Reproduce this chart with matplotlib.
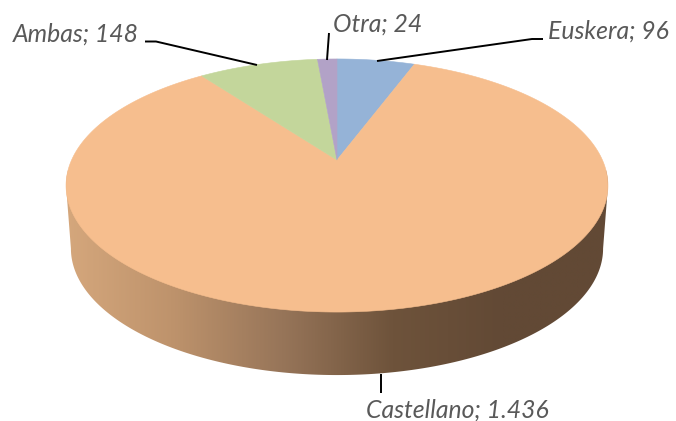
import numpy as np
import matplotlib
matplotlib.use("Agg")
import matplotlib.pyplot as plt
from matplotlib.patches import Polygon
from matplotlib.colors import LinearSegmentedColormap

# Slices, clockwise from 12 o'clock
categories = ["Euskera", "Castellano", "Ambas", "Otra"]
values = [96, 1436, 148, 24]
colors = ["#95B3D7", "#F6BE8E", "#C3D69B", "#B2A2C7"]

# Label anchors (x, baseline y, horizontal alignment) and leader polylines
label_pos = {
    "Euskera": (548, 38.5, "left"),
    "Castellano": (366, 418, "left"),
    "Ambas": (139, 42, "right"),
    "Otra": (333, 31.5, "left"),
}
leaders = {
    "Euskera": [(543, 39), (532, 39), (377, 61)],
    "Castellano": [(381, 374), (381, 393)],
    "Ambas": [(145, 41.5), (156, 41.5), (257, 65)],
    "Otra": [(329, 33), (327, 60)],
}

# Perspective disc geometry (pixel units)
CX, CY = 337.0, 160.0     # projected centre of the top face
A, B = 265.4, 121.4       # projected radii
K = -0.2016               # perspective foreshortening
DEPTH = 63.0
SHRINK = 0.982


def project(phi, drop=0.0, shrink=1.0):
    u = np.sin(phi)
    v = -np.cos(phi)
    d = 1.0 + K * v
    return CX + shrink * A * u / d, CY + B * v / d + drop


fig = plt.figure(figsize=(6.76, 4.21), dpi=100)
ax = fig.add_axes([0, 0, 1, 1])

# Side wall: silhouette of the disc, filled with a horizontal shading
phi_l = 2 * np.pi - np.arccos(-0.2016)
phi_r = np.arccos(-0.2016)
back = np.linspace(phi_l, 2 * np.pi + phi_r, 300)
front = np.linspace(phi_r, phi_l, 300)
tx, ty = project(back)
bx, by = project(front, drop=DEPTH, shrink=SHRINK)
side_xy = np.column_stack([np.concatenate([tx, bx]), np.concatenate([ty, by])])
side = Polygon(side_xy, closed=True, facecolor="none", edgecolor="none")
ax.add_patch(side)

shade = LinearSegmentedColormap.from_list(
    "side", [(0.0, "#D6A87D"), (0.25, "#BE936C"), (0.5, "#977559"),
             (0.75, "#6E533B"), (1.0, "#624935")])
xs = np.linspace(0, 1, 600)
xs = np.clip(xs / 0.8, 0, 1)
grad = np.tile(xs, (10, 1))
img = ax.imshow(grad, cmap=shade, extent=(60, 615, 390, 170),
                aspect="auto", interpolation="bilinear", zorder=1)
img.set_clip_path(side)

# Top face wedges
total = float(sum(values))
start = 0.0
for cat, val, col in zip(categories, values, colors):
    span = val / total * 2 * np.pi
    phis = np.linspace(start, start + span, max(4, int(span * 80)))
    px, py = project(phis)
    pts = np.column_stack([np.concatenate([[CX], px]), np.concatenate([[CY], py])])
    ax.add_patch(Polygon(pts, closed=True, facecolor=col, edgecolor=col,
                         linewidth=0.4, zorder=2))
    start += span

# Data labels with leader lines
for cat, val in zip(categories, values):
    lx, ly = zip(*leaders[cat])
    ax.plot(lx, ly, color="black", lw=1.4, zorder=3, solid_capstyle="butt")
    x, y, ha = label_pos[cat]
    txt = f"{cat}; {val:,}".replace(",", ".")
    ax.text(x, y, txt, ha=ha, va="baseline", fontsize=17.8,
            family=["Lato", "DejaVu Sans"], style="italic", color="#595959",
            zorder=4)

ax.set_xlim(0, 676)
ax.set_ylim(421, 0)
ax.axis("off")
fig.savefig("out.png", dpi=100)
